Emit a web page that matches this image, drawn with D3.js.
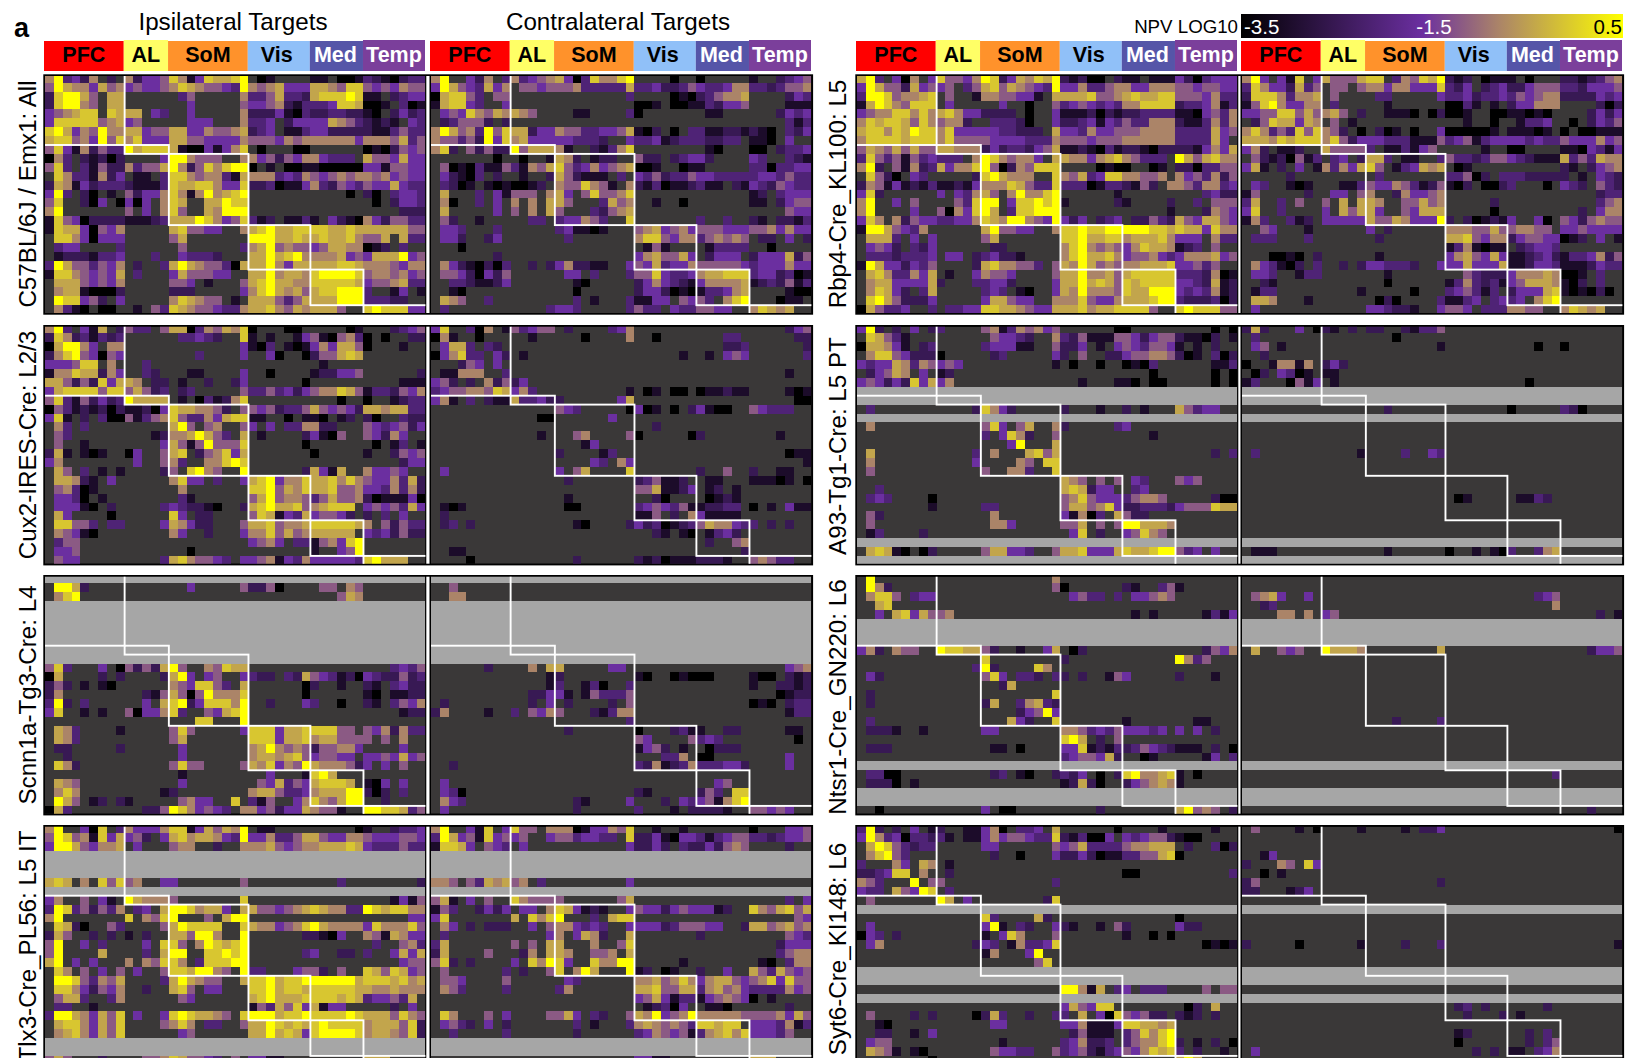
<!DOCTYPE html>
<html><head><meta charset="utf-8">
<script src="https://cdn.jsdelivr.net/npm/d3@7"></script>
<style>html,body{margin:0;padding:0;background:#fff;overflow:hidden}svg{display:block}text{font-family:"Liberation Sans",Arial,sans-serif}</style>
</head><body>
<script>
// Each row: six region groups separated by | ; digits are colour levels 0-9, "." no projection, "#" not measured row
const areas = ["PFC","AL","SoM","Vis","Med","Temp"];
const areaCols = [9,5,9,7,6,7];
const areaRows = [8,1,8,5,4,1];
const areaColors = ["#ff0000","#ffff66","#ff922b","#90c0f8","#5555a8","#7b3f9b"];
const areaText = ["#000","#000","#000","#000","#fff","#fff"];
const levelValues = [-3.5,-3.0,-2.5,-2.1,-1.6,-1.2,-0.8,-0.45,-0.1,0.5];
const colorDomain = [-3.5,-1.6,-0.8,0.5];
const colorRange = ["#000000","#6b2fa0","#ab8468","#ffff00"];
const colorTicks = ["-3.5","-1.5","0.5"];
const titles = ["Ipsilateral Targets","Contralateral Targets"];

const c57_ipsi = [
"693426.2|62445|861487789|.01....|11.001|3210233",
"597664756|45445|687655439|6567444|776588|5454655",
"289975.77|.....|.35.....6|3357332|788898|11.2344",
"289965.77|.....|..4.....5|4456213|334887|001.301",
"456788.87|77.43|..4.....6|2224103|223322|10.2423",
"488888567|45...|..444...6|334.244|447653|2121.43",
"897465966|77455|774465567|234.113|442222|2113533",
"788564958|68444|775544446|5554656|666664|6665735",
"584162533|97888|710041468|.0...00|......|0102545",
"063.21202|....4|996555..6|6452546|643 33.|7554744",
"583.31522|63557|962586899|0.1.001|100000|4415544",
".86331624|.11.3|886566317|6663436|545656|6564544",
"276142333|21113|877886448|2230114|632543|5447433",
"493.20.1.|52446|861696789|.......|....0.|20.3443",
"58..204.0|404.6|87..77988|.......|......|.0.2443",
"69.......|5.4.6|85..76999|.......|......|....222",
"185402222|11123|777986458|312.113|1.4210|6425533",
"187740546|.....|785544..6|7897788|887787|7777755",
".886404446|.....|57.......|9997787|787786|557.733",
".344....3|.....|.5......3|6795655|457766|012.3..",
".12221334|...3.|.43332...|7797896|666745|4777945",
"397553546|.2..3|797655307|7796477|777887|6665466",
"188654547|.3...|475554 4..|7796776|899998|5665645",
".77754546|.....|554.1...5|7897766|888887|4556733",
".67710002|.....|222.....4|6897675|788999|3..14.1",
".988452.4.|.....|687655.1.|7775357|777999|33322..",
".6310.00.|.1.53|876554336|7786576|777 5..|8988844"
];
const c57_contra = [
"69..4 26.3|63456|740386689|....0..|0.....|1..2345",
"497543746|.5545|556333337|3342235|433466|3323556",
"078853.55|.....|........3|....010|235667|....243",
"178843..4|.....|.........|001.001|132445|....111",
".45486576|765..|..11....3|0......|.11...|...2434",
".23555 2.2|.....|.........|.......|......|....313",
"697563958|77244|655334457|102.0.3|311221|210.324",
"655352948|67444|443332..4|3341233|3223 3.|110.4..",
"682.52522|95777|61..2136 8|.......|.10...|00.2334",
".......0.|.0..1|762.122..|522.234|42....|43..321",
".501031 15|31657|853464567|001..01|1.....|3303344",
".4210 3 .2|.1..2|752111 .3|4352335|443333|3443533",
".320 1.101|00 12.|655865 1.6|2130112|311.21|4325433",
".7...3.41|555.6|74.585568|.......|......|12.3444",
".60..3.4.|6.6.7|75...3756|..1..0.|......|11.2455",
".7.....4.|5.6.7|5...32567|.......|......|....544",
".52..1...|..33.|344653..8|.......|3..3..|21.2213",
".443...3.|.....|341101...|5674564|555444|5564644",
".442..24.|.....|.3.......|6885466|356565|.22.4.2",
"...0.....|.....|.........|.151...|.13333|..0....",
".......2.|.....|.........|4675574|.2444.|2444725",
".64210203|..2.2|462211..4|5473446|555554|3444644",
".55420 4 25|.....|.44.3...3|5584334|677888|3442301",
"..332 1124|.....|..10.....|2464321|466667|1232513",
"..10.....|.....|..0......|2442010|133467|....100",
".765..3..|.....|..3.1...3|1144.54|53.689|...011.",
".3.......|....3|443.....3|533.433|554 4..|6876 7.."
];
const rbp4_ipsi = [
"793.406.4|85546|982476879|21200.2|11.111|4203444",
"497552745|45.35|785765439|4463356|644666|5545544",
"399856678|.5..1|665544 1.7|7778556|787788|5554633",
"179865888|.4...|..4..0..5|3454343|668888|2334613",
"456688686|78644|22 22.0..4|1112021|223333|1104536",
"687887586|56 62.|.33320..4|2234143|533666|2113636",
"788687988|68444|443322 2.7|4436445|556666|3333745",
"688887888|68555|544443336|5554555|666666|3333 74",
"576575755|77666|242332457|1121031|221022|2214647",
"385351534|333.6|986566 4.7|7664678|653 33.|9757866",
"692.51623|74668|950265888|....010|0..01.|2203355",
".8520 .43.|....2|897666..8|6573488|665 56.|6453625",
"265141213|11214|666875338|3330133|215 2.6|6536634",
"482......|4.436|75.696689|......1|......|...3422",
"69..4.5..|..538|99.488989|1.....2|1....2|..3.555",
"69....4..|50648|97.388999|.......|.....1|...2654",
"486.62544|33446|876996549|424.234|.22532|7547754",
"199754 36|.....|795544..6|8898899|999887|8774866",
".777 3.4.4|.....|57.......|8897788|677786|444.633",
".454 2.324|.....|.22......|6896565|468776|123.5..",
".33323334|.44.2|342 21....|6897786|455643|4666745",
"197442435|....2|786655 3.5|7697565|667778|4453 5..",
".786 33647|.1..4|655 4....5|7796675|788888|3332601",
".67744447|2...3|34 42....4|7797875|878888|4432712",
".687 42.37|.....|343.10..4|7696665|877999|4343612",
".897 52224|.....|477544 ..6|6685446|777899|3222302",
"075334..3|.3344|887765447|7786778|888 5..|8988855"
];
const rbp4_contra = [
"694.4 18.4|75557|88.365879|212.011|1.0...|2212356",
"386442735|.55.5|664664448|324.234|224555|3324445",
"288863667|.5...|.33.....4|3342334|354566|2222434",
"158964466|.3...|..1......|003 1.1.|244666|....202",
"445588575|675.2|..111 0.02|001..00|110 10.|...2424",
".2587 7476|.5.1.|.........|..1..0.|.13 34|.0.2435",
"686353858|652.0|.201.0..4|0000 01.|111 01.|0.00111",
"777687888|68524|443331115|3451344|443433|5444645",
"462.11 2..|75555|3.1131 45|....1..|00....|1104314",
".521205 13|.34.2|773.11..3|5332355|432111|7353766",
"471.2.4.1|63647|85.134767|.01....|......|21.2456",
".....2...|.....|.3.......|3350 2.3|332222|2.1.432",
".43..101.|..113|544653125|102.002|3...0.|432.532",
"15.....2.|.44.5|6..264456|.......|......|....233",
"37..3.5..|5.7.7|76..55756|.....2.|......|....356",
"48..3....|4.757|74..54777|.....0.|......|..2.466",
"163..312.|44444|755764449|2.20121|4..40.|5425655",
"..54...1.|.....|4.2......|6665575|566 55.|4454444",
".333...3.|.....|.2.......|7785466|245544|012.4.1",
".........|.....|.........|1361011|.23443|.......",
"...001 0.2|.....|.1.......|4675474|112342|1334625",
".64310 2.3|..2.2|443332..4|4474447|112443|1112433",
".443..133|.....|..1......|..53222|466676|0 01.3..",
"..21.....|.....|..0......|1363231|457776|102.3..",
".133.....|....1|.....0...|3453 13.|244478|101020.",
".776...1.|.....|.020....3|1134.34|34.689|.......",
".4.......|.....|443221..4|554.333|665 5..|68767.."
];
const cux2_ipsi = [
"693.417.2|533.5|770365768|0...00.|....01|...2 345",
"286231323|.....|.33432..8|1.1..14|510563|0.0..22",
"079964.66|.....|........4|103.101|464775|0...1..",
"268954054|.....|...3....4|..40..0|255787|.......",
"444588.6.|..3..|.........|.......|.1....|.......",
"166877264|..32.|..11....4|..0....|122445|......2",
"775252847|76.22|.1..2..24|......0|......|....111",
"478888588|57523|.23.....5|3353424|566875|1332546",
"583152423|97777|.1.031268|.......|...0..|0..1233",
"053121202|11204|877665 2.5|5452335|754542|7767733",
"481.2.300|51356|853364788|11..0.1|10.12.|20..322",
".63.3....|.....|795.56..5|4.4.336|622...|5434524",
".53......|...12|667975 3.7|.1....2|410 5..|5426 4.",
".5..1....|....4|751595558|......0|......|.0.13.1",
"271.101..|04..5|78.256847|.......|0.....|1..2545",
"46.......|.4..5|63..66898|.......|......|....244",
".75.3.1.1|....2|5.8965..9|......2|741 7..|644 54.",
".776 21.4.|.....|684 4.3..4|7894668|778686|5446372",
".563 01...|.....|.6.......|8895768|778556|4436362",
".443 0.1..|.....|.31......|5795665|357556|2011140",
".444 10.2.|....3|432210..2|7897785|678 88.|4545374",
".74....0.|.....|84.22....|5871437|455 42.|2.3.4..",
".885 53.33|....4|764 22...5|7785667|888887|6.52533",
".654 10...|.....|64..2...4|6685756|777 77.|4342522",
".355.....|.....|.........|4564.33|156489|.......",
".445.....|.....|..0......|.......|1..459|.......",
".544.....|....3|786554 3.4|4561436|444443|8977 7.."
];
const cux2_contra = [
"48..306.1|53455|.2....346|.......|......|....245",
"061..0...|..1..|...0....6|..0....|...33.|.....22",
".477 3.32.|.....|.........|.......|...223|......2",
"046833.42|.1...|.........|.....1.|.1.454|......3",
"...254.4.|.....|.........|.......|......|.......",
".116 66..3|.....|.........|.......|......|....1..",
"452.2.625|24...|.........|.......|......|.......",
"345566587|463..|........1|.01.00.|011211|....101",
"461.3.211|73342|2......47|.......|......|.....00",
".........|.....|543.....0|401.0.2|410 0..|54333..",
".........|...00|......4..|.......|......|.......",
".........|.....|.........|..2....|......|.......",
".........|...1.|..56....5|0.....0|2.....|...1...",
".........|.....|...14....|.......|......|.......",
".........|.....|2....13..|.......|......|....011",
".........|.....|....43.64|.......|......|......1",
".4.......|.....|4.57....8|.......|2..5..|2..11..",
".........|.....|.2.......|235112.|.11...|1110 1.0",
".........|.....|.........|5571124|.12.1.|.......",
".........|.....|.1.......|..20...|.0121.|.......",
".101.....|.....|.00......|3454351|122 33.|0.1.411",
".2.......|.....|.........|1 15.2.6|4 1111|.......",
".23.2....|.....|..10....2|4230123|576643|3.2.2..",
".........|.....|.........|..21.10|.1342.|.......",
".........|.....|.........|.......|.2..56|.......",
"..11.....|.....|.........|.......|.....2|.......",
"....0....|.....|..2......|2120111|2221..|5653 3.."
];
const scnn1a_ipsi = [
"#",
".9972....|.....|..4.....5|225 0...|.55.65|.......",
".689.....|.....|.........|.......|...576|.......",
"#","#","#","#","#","#","#",
"583...4.0|52527|95..65877|.......|......|...3435",
"07....2.2|....2|794.45..4|322.327|543120|4322523",
"252.1.10.|.....|654885 3.7|......0|2..1..|21.3422",
"26.......|..215|750596668|......0|......|10.1122",
"392.3....|..4.7|8924888 69|..2...4|3..0..|21.3546",
"48..1.1..|50446|83..54789|.......|......|....122",
".........|.....|...88...9|.......|......|.......",
".763....1|.....|585.....4|8884778|888 55.|5462633",
".763.....|.....|57.......|8884778|677555|5.5.6..",
".22.....2|.....|.4.......|6796565|255664|....4..",
"..2......|.....|.4.......|6776785|455 44.|4454745",
".862.....|.....|5855....5|7684659|766652|4.4.5..",
".........|.....|.1.......|..4...1|897...|.......",
".765.....|.....|.4.......|.547354|788 87.|104.4..",
".686.....|....1|2........|6775334|677799|202.3..",
".975.12.2|1....|.564 4..8|3 15..46|865799|..2....",
"073......|..225|986454 3.6|6452447|655 1..|9988735"
];
const scnn1a_contra = [
"#",
"..5......",
"..66.....",
"#","#","#","#","#","#","#",
"......2..|..6.7|7.....44.|.......|......|....456",
".........|....1|2........|10..010|00....|100.212",
".........|....1|3..130..3|.......|......|1..2212",
".........|..224|41.153335|.......|......|...0122",
".2.......|..2.4|.2....2.5|.......|......|010.233",
"26....1..|3.546|5...21366|.......|......|....133",
".........|.....|........3|.......|......|.......",
".........|.....|.2.......|0...231|1..22.|....11.",
".........|.....|.........|54....5|343...|.....0.",
".........|.....|.........|14 52.1.|.0222.|.......",
".........|.....|.........|...336.|00....|....4..",
"..2......|.....|.........|3261236|333442|....4..",
".........|.....|.........|.......|......|.......",
".4.......|.....|.........|.......|..45..|.......",
".430.....|.....|.........|21.....|253.88|.......",
".643.....|.....|..21....4|...2.43|451689|.......",
".4.......|.....|..2......|3...1.2|2221..|55454.."
];
const tlx3_ipsi = [
"69..408.3|64446|881475769|.11....|.....0|1..2334",
"598561847|452.4|786776439|4463357|754466|5444554",
"499754667|.4...|566..2..6|6675456|677787|4333533",
"#","#","#",
"787.6.858|56..4|4.......5|.......|...3..|......2",
"#",
"46..5.41.|97666|5.......8|.......|......|...1415",
"398352536|.34.7|998677 4.7|7554567|876633|9878866",
"69.......|8.658|9...5.799|.......|......|.....44",
".8720.. 536|....5|798888..8|7664568|976666|4866685",
"275..2.2|1.2..|775996..9|......2|210 4..|6517644",
"59..4.3..|..4.8|85.698789|.......|......|.3..563",
"59....7..|..3.7|99..88989|......3|4..22.|3..4747",
"79.4.4...|6.658|86.388899|.......|......|....455",
".86.5.4.5|.4..5|887996 5.9|33...45|52.5..|8758745",
".99853657|....3|797655..7|8897889|999997|8887867",
".88642546|..2..|785.44...|8897887|888887|7667666",
".577 3..36|.....|.54......|7897778|888787|3445 37.",
".33..1...|.....|.........|1537584|714 4..|...2.4.",
"399764758|.4..4|898776 5.8|9997889|888898|7775865",
".788 64758|....5|686.33..5|7798787|898888|6777582",
".678 64758|.....|.45......|7797874|899998|6776582",
"#","#",
"575...2..|..556|8755 43.5|4411...|......|777...."
];
const tlx3_contra = [
"69..418.4|855.6|660144658|..1..1.|......|0...445",
"397451845|45..4|553443 3.8|2241044|313455|3323445",
"188 74.543|.4...|........4|2242.32|242565|....2..",
"#","#","#",
"665.53767|56.3.|........4",
"#",
"571.4.5..|86555|5......57|.......|......|....3.4",
"153..2424|.44.6|874121..4|5442454|441 2..|8657857",
"48.......|7.868|9...3.788|.......|......|.....54",
".64.2.222|..4.5|664343..4|4442355|544..2|7756756",
".3.......|....4|6.476 2..7|.......|2.....|....543",
"37.......|5.5.7|7...6..58|.......|......|...2444",
"27....5..|.26.7|76..556.7|.......|......|...3566",
"582.2....|4.869|84..86699|.....1.|......|.10.366",
".5......3|.2..5|8.697...9|12.01..|2..4..|7537545",
".554....5|.....|.43......|6675686|467754|5684855",
".653....3|.....|36.......|7785577|367564|3333645",
".........|.....|.........|4574133|145654|0.1....",
".........|.....|.........|.123 04.|.110..|....2..",
".86...5.4|....5|574.32..5|7694569|666665|5556475",
".453 2.4.25|.....|..3.1...3|6765653|887 88.|4443613",
"..3.....3|.....|..2......|3465451|367868|44435..",
"#","#",
".........|.....|.........|4411...|......|777...."
];
const a93_ipsi = [
"492.2.4.2|3....|561365645|......0|0.....|....0.0",
".87531...|.....|.54432..6|3251115|542455|2110 2.1",
"077641.23|.....|344411..5|224.1.4|543554|1.1.2..",
".68854222|0....|.23.....4|2.5..22|455665|201.302",
"434476365|454..|........1|.0..0..|0103..|....113",
".24576.4.|12...|.........|.......|...0..|....0.0",
"4542428 47|46...|.........|..1...1|10.00.|....0.0",
"#","#",
".3.......|....2|8642.....|2...1..|2.1...|75344..",
"#",
".6.......|.....|584.57..6|2.....3|4.....|.......",
".........|.....|3.4862..5|.......|...1..|.......",
".........|.....|...49...7|.......|......|.......",
".7.......|....3|.6...7857|.......|......|....2.3",
".6.......|....4|....65.88|.......|......|.......",
".5.......|.....|5..663..8|.......|......|.......",
".........|.....|.........|7 65.5.5|.43...|545....",
"..3......|.....|.........|7872 44.|.34...|.......",
".343....0|.....|.........|5685444|356 65.|....200",
"........1|.....|33.......|5775684|223332|4555877",
".52......|.....|.6.......|4160 3.7|522...|.......",
".5.......|.....|.664.....|5 57.5.5|997776|.......",
".13....2.|.....|.........|.48.2..|458 65.|.......",
"#",
".78710.02|.....|577443..5|7784447|877899|534.4..",
"#"
];
const a93_contra = [
"272...4.0|21.2.|22..21335",
".3.......|.....|...0.....",
".45.1....|.....|........1|.......|...0..|0......",
"..2......",
"0..166 16.|242..",
".02.430 1.|11...",
"13...0514|.1...|.........|.......|..0...",
"#","#",
".........|.....|..2......|.......|0.....|320....",
"#",
"","","",
".3.......|....1|....3..43",
"","","","",
".........|.....|.........|.01....|.1132.",
"","","","",
"#",
".111.....|.....|..1......|0..1.10|3..367",
"#"
];
const ntsr1_ipsi = [
".9.......|.....|........6",
".962.....|.....|........5|0......|21..35|1......",
".688 5.344|.....|.........|.4533.3|.44565",
"..78",
"..4.78475|56...|.........|.......|.1.1..|...1314",
"#","#","#",
"462.655..|98877|52..1..47|.02....|......|...2546",
".........|.....|8........|2......|......|9635...",
".........|....3|92....86.",
".42......|.....|584.332.3|2.2..15|4.....|2...1..",
".........|.....|..27.....",
".2.......|.....|........8",
".2.......|.....|27..36732",
".........|.....|....24594",
".3.......|.....|...742..8|.......|1.....|..11...",
".2221..1.|.....|44.......|6653435|44434.|4.4.2..",
".........|.....|.........|897.2.5|......|.......",
".222.....|.....|.11.0....|4481213|235432|111.2.0",
".........|.....|.........|3455472|..01..|...14.3",
"#",
".3300....|.....|.23.10..2|324.0.2|896678|1.0....",
".2220.1..|.....|.........|1272 0..|245676|1......",
"#","#",
"..0......|.....|4.00.....|....2..|......|7956 5.2"
];
const ntsr1_contra = [
"","",
".5674..4.|.....|.........|.......|...345",
"..23.....|.....|.........|.......|.....6",
"....66.6.|45...|.........|.......|......|....2.1",
"#","#","#",
".7..545..|97776|........7|.......|......|...2445",
"","","","","","","",
".........|.....|...2....3",
"","","","",
"#",
".........|.....|.........|.......|.....3",
"",
"#","#",
".........|.....|.........|.......|......|...2"
];
const syt6_ipsi = [
"392.2.4.1|2..11|46 0.33 4.7|......0|....1.|....1..",
"496340332|31.11|464554338|2130 04|434552|100....",
".79853233|.....|44......5|4573333|566777|.2..302",
".68953...|.....|.2..0...4|2242011|335578|0......",
"3...64.76|.1...",
"223488.6.|.2...|.........|.......|00....|......3",
"653...9.5|5....|........3",
"433.7549 8|.3...",
".5.......|97.4.|.......28",
"#",
".........|.....|83....72.|.......|......|0......",
".4.......|.....|491.32..4|21..1.5|2.....|422....",
"043.2....|.....|1.486...5|.......|1..0.0",
".46......|....2|43.163348|.......|......|...0101",
".........|.....|16...49..",
".........|.....|......58.",
"#","#",
".........|.....|.........|9961 7.3|4.333.|...5.55",
"#",
".........|.....|.........|4754 88.|......|.02.7..",
".5....2.2|....0|273..2..3|3.7.408|545 22.|212.2..",
"..10.....|.....|.44......|4461114|887767|.......",
"..22..1.4|.....|.........|.251 11.|358689|.......",
".455.....|.....|..1......|3462 23.|356689|2.1.2.0",
".765 1.10.|.....|.544 33..5|3452134|546878|3.2..1.",
"........0|.....|.........|.......|......|797...."
];
const syt6_contra = [
".5....1.0|....1|....1.224|.......|......|......0",
"","",
"..14",
"2...65.84",
"..0.1",
"25.......|.....|........2",
"22...124.",
"",
"#",
"","","",
"2.....0..|....1|....2...3|.......|......|......1",
"","",
"#","#",
"",
"#",
".........|.....|.........|.23.2..|....2.",
".........|.....|.........|..2...2|.1....",
"",
".........|.....|.........|.12....|..2.3.",
".........|.....|.........|.0.....|..2.35",
".4.......|.....|.........|...2.2.|11.346",
""
];

const strains = ["C57BL/6J / Emx1: All","Cux2-IRES-Cre: L2/3","Scnn1a-Tg3-Cre: L4","Tlx3-Cre_PL56: L5 IT","Rbp4-Cre_KL100: L5","A93-Tg1-Cre: L5 PT","Ntsr1-Cre_GN220: L6","Syt6-Cre_KI148: L6"];
const matrices = [
 [c57_ipsi,c57_contra],[cux2_ipsi,cux2_contra],[scnn1a_ipsi,scnn1a_contra],[tlx3_ipsi,tlx3_contra],
 [rbp4_ipsi,rbp4_contra],[a93_ipsi,a93_contra],[ntsr1_ipsi,ntsr1_contra],[syt6_ipsi,syt6_contra]
];

// layout
const W=1627,H=1058, panelW=380.4, panelH=237, rowH=8.9, rowOff=-2.2;
const pairX=[[45,431],[857,1242]];
const panelTops=[76,326.7,576.7,826.7];
const nCols=d3.sum(areaCols), nRows=d3.sum(areaRows);
const labelPos=[[35.5,194],[35.5,445],[35.5,695],[35.5,946],[846,194],[846,446],[846,697],[846,949]];
const labelNudge=[0,0,0,-2,-1,0];

const color=d3.scaleLinear().domain(colorDomain).range(colorRange);
const svg=d3.select("body").append("svg").attr("width",W).attr("height",H);
const defs=svg.append("defs");
const colIdx=d3.range(nCols), rowIdx=d3.range(nRows);
const colStart=d3.cumsum([0,...areaCols]), rowStart=d3.cumsum([0,...areaRows]);

function decode(rows){
  return rowIdx.map(r=>{
    const s=(rows[r]===undefined?"":rows[r]).replace(/ /g,"");
    if(s==="#") return colIdx.map(()=>"#");
    const g=s.split("|"); let out=[];
    areaCols.forEach((n,i)=>{ out=out.concat(((g[i]||"").padEnd(n,".")).slice(0,n).split("")); });
    return out;
  });
}

let clipId=0;
function drawPanel(rows,px,py){
  const x=d3.scaleBand().domain(colIdx).range([px,px+panelW]).paddingInner(0);
  const y=d3.scaleBand().domain(rowIdx).range([py+rowOff,py+rowOff+rowH*nRows]).paddingInner(0);
  const id="c"+(clipId++);
  defs.append("clipPath").attr("id",id).append("rect").attr("x",px).attr("y",py).attr("width",panelW).attr("height",panelH);
  const g=svg.append("g").attr("clip-path",`url(#${id})`);
  g.append("rect").attr("x",px).attr("y",py).attr("width",panelW).attr("height",panelH).attr("fill","#3a3838");
  const cells=[]; decode(rows).forEach((row,r)=>row.forEach((ch,c)=>{ if(ch!==".") cells.push({r,c,ch}); }));
  g.append("g").attr("shape-rendering","crispEdges").selectAll("rect").data(cells).join("rect")
    .attr("x",d=>x(d.c)).attr("y",d=>y(d.r)).attr("width",x.bandwidth()).attr("height",y.bandwidth())
    .attr("fill",d=>d.ch==="#"?"#a6a6a6":color(levelValues[+d.ch]));
  // diagonal region outlines
  areas.forEach((a,i)=>{
    const x0=i===0?px-6:x(colStart[i]), y0=i===0?py-6:y(rowStart[i]);
    const x1=i===areas.length-1?px+panelW+6:x(colStart[i+1]), y1=i===areas.length-1?py+panelH+6:y(rowStart[i+1]);
    g.append("rect").attr("x",x0).attr("y",y0).attr("width",x1-x0).attr("height",y1-y0)
      .attr("fill","none").attr("stroke","#fff").attr("stroke-width",1.9);
  });
}

function drawHeader(px){
  const x=d3.scaleLinear().domain([0,nCols]).range([px-1,px+panelW-0.4]);
  areas.forEach((a,i)=>{
    const x0=x(colStart[i]),x1=x(colStart[i+1]);
    const top=(a==="AL"||a==="Temp")?40:41;
    svg.append("rect").attr("x",x0).attr("y",top).attr("width",x1-x0).attr("height",71-top).attr("fill",areaColors[i]);
    svg.append("text").attr("x",(x0+x1)/2+labelNudge[i]).attr("y",61.5).attr("text-anchor","middle")
      .attr("font-size",21.5).attr("font-weight","bold").attr("fill",areaText[i]).text(a);
  });
}

pairX.forEach((pair,ci)=>{
  pair.forEach(drawHeader);
  panelTops.forEach((t,ri)=>{
    const left=pair[0]-1.7, right=pair[1]+panelW+1.7;
    svg.append("rect").attr("x",left).attr("y",t-1.7).attr("width",right-left).attr("height",panelH+3.4).attr("fill","#000");
    svg.append("rect").attr("x",pair[0]+panelW+0.9).attr("y",t).attr("width",pair[1]-pair[0]-panelW-2.4).attr("height",panelH).attr("fill","#fff");
    const k=ci*4+ri;
    drawPanel(matrices[k][0],pair[0],t);
    drawPanel(matrices[k][1],pair[1],t);
    const [lx,ly]=labelPos[k];
    svg.append("text").attr("transform",`translate(${lx},${ly}) rotate(-90)`).attr("text-anchor","middle")
      .attr("font-size",24.2).attr("fill","#000").text(strains[k]);
  });
});

// titles
svg.append("text").attr("x",233).attr("y",30).attr("text-anchor","middle").attr("font-size",24.2).text(titles[0]);
svg.append("text").attr("x",618).attr("y",30).attr("text-anchor","middle").attr("font-size",24.2).text(titles[1]);
svg.append("text").attr("x",14).attr("y",37).attr("font-size",27).attr("font-weight","bold").text("a");

// colour bar
const barX=d3.scaleLinear().domain([-3.5,0.5]).range([1241,1623]);
const grad=defs.append("linearGradient").attr("id","cb");
colorDomain.forEach(v=>grad.append("stop").attr("offset",(v+3.5)/4).attr("stop-color",color(v)));
svg.append("rect").attr("x",barX(-3.5)).attr("y",14).attr("width",barX(0.5)-barX(-3.5)).attr("height",24).attr("fill","url(#cb)");
svg.append("text").attr("x",1238).attr("y",33).attr("text-anchor","end").attr("font-size",18.7).text("NPV LOG10");
svg.append("text").attr("x",barX(-3.5)+3).attr("y",33.5).attr("font-size",20.5).attr("fill","#fff").text(colorTicks[0]);
svg.append("text").attr("x",barX(-1.5)+2).attr("y",33.5).attr("text-anchor","middle").attr("font-size",20.5).attr("fill","#fff").text(colorTicks[1]);
svg.append("text").attr("x",barX(0.5)-1).attr("y",33.5).attr("text-anchor","end").attr("font-size",20.5).attr("fill","#000").text(colorTicks[2]);
</script>
</body></html>
